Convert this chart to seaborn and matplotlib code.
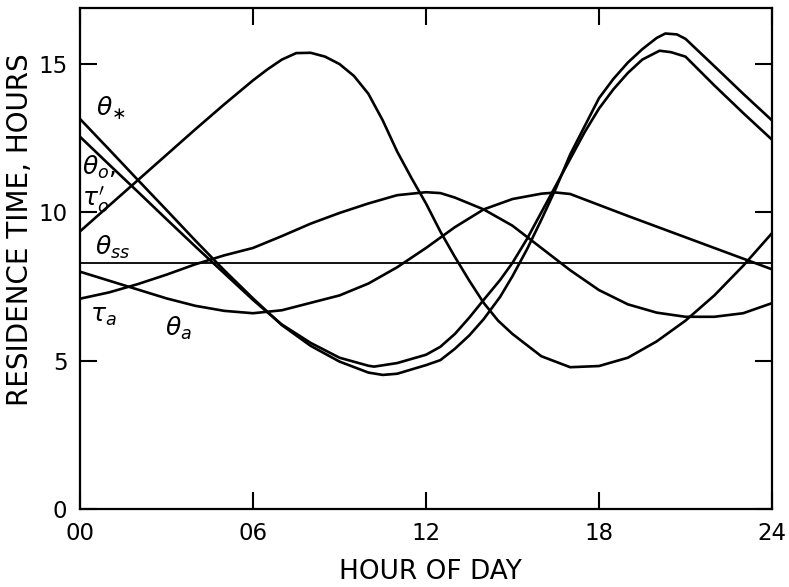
import matplotlib
matplotlib.use("Agg")
import matplotlib.pyplot as plt
import seaborn as sns
import pandas as pd

# ---- data (hours of day, residence time in hours) ----
theta_star_h = [0, 1, 2, 3, 4, 5, 6, 6.5, 7, 7.5, 8, 8.5, 9, 9.5, 10, 10.5, 11, 11.5, 12, 12.5, 13, 13.5, 14, 14.5,
                15, 16, 17, 18, 19, 20, 21, 22, 23, 24]
theta_star_v = [9.36, 10.22, 11.08, 11.94, 12.80, 13.64, 14.45, 14.82, 15.15, 15.37, 15.38, 15.25, 15.0, 14.6, 14.0,
                13.1, 12.05, 11.15, 10.3, 9.35, 8.5, 7.7, 6.95, 6.35, 5.9, 5.15, 4.78, 4.82, 5.1, 5.65, 6.35, 7.2,
                8.2, 9.3]

theta_o_h = [0, 1, 2, 3, 4, 5, 6, 6.5, 7, 8, 9, 10, 10.5, 11, 12, 12.5, 13, 13.5, 14, 14.57, 15, 15.5, 16, 16.5, 17,
             17.5, 18, 18.5, 19, 19.5, 20, 20.3, 20.7, 21, 22, 23, 24]
theta_o_v = [13.15, 12.13, 11.1, 10.08, 9.05, 8.05, 7.1, 6.65, 6.2, 5.5, 4.97, 4.6, 4.52, 4.56, 4.85, 5.02, 5.4, 5.85,
             6.4, 7.15, 7.85, 8.75, 9.75, 10.8, 11.95, 12.9, 13.85, 14.5, 15.05, 15.5, 15.88, 16.03, 16.0, 15.85,
             14.93, 14.0, 13.1]

tau_o_h = [0, 1, 2, 3, 4, 5, 6, 6.5, 7, 8, 9, 10, 10.2, 11, 12, 12.5, 13, 13.5, 14, 14.57, 15, 15.5, 16, 16.5, 17,
           17.5, 18, 18.5, 19, 19.5, 20, 20.1, 20.5, 21, 22, 23, 24]
tau_o_v = [12.55, 11.62, 10.7, 9.77, 8.85, 7.95, 7.05, 6.63, 6.22, 5.6, 5.1, 4.83, 4.8, 4.92, 5.2, 5.47, 5.9, 6.45,
           7.05, 7.72, 8.3, 9.1, 10.0, 10.9, 11.8, 12.7, 13.5, 14.15, 14.7, 15.15, 15.4, 15.45, 15.4, 15.25, 14.28,
           13.35, 12.45]

theta_ss_h = [0, 24]
theta_ss_v = [8.3, 8.3]

tau_a_h = [0, 1, 2, 3, 4, 5, 6, 7, 8, 9, 10, 11, 12, 12.5, 13, 14, 15, 16, 17, 18, 19, 20, 21, 22, 23, 24]
tau_a_v = [7.09, 7.3, 7.58, 7.9, 8.25, 8.55, 8.8, 9.2, 9.62, 9.98, 10.3, 10.58, 10.68, 10.65, 10.5, 10.1, 9.55, 8.8,
           8.05, 7.38, 6.9, 6.62, 6.48, 6.48, 6.6, 6.94]

theta_a_h = [0, 1, 2, 3, 4, 5, 6, 7, 8, 9, 10, 11, 12, 13, 14, 15, 16, 16.5, 17, 18, 19, 20, 21, 22, 23, 24]
theta_a_v = [8.0, 7.7, 7.4, 7.1, 6.85, 6.68, 6.6, 6.7, 6.95, 7.2, 7.6, 8.15, 8.8, 9.5, 10.1, 10.45, 10.63, 10.67,
             10.62, 10.25, 9.88, 9.52, 9.16, 8.8, 8.44, 8.08]

x_ticks = [0, 6, 12, 18, 24]
x_tick_labels = ["00", "06", "12", "18", "24"]
y_ticks = [0, 5, 10, 15]
y_tick_labels = ["0", "5", "10", "15"]

curve_labels = [r"$\theta_{\ast}$", r"$\theta_o,$", r"$\tau_o'$", r"$\theta_{ss}$", r"$\tau_a$", r"$\theta_a$"]

# ---- plot ----
sns.set_theme(style="ticks")
plt.rcParams['font.family'] = ['DejaVu Sans']
plt.rcParams['mathtext.fontset'] = 'dejavusans'

fig = plt.figure(figsize=(7.89, 5.87), dpi=100)
ax = fig.add_axes([80 / 789, 1 - 509 / 587, (772 - 80) / 789, (509 - 8) / 587])

series = [(theta_star_h, theta_star_v, 1.9), (theta_o_h, theta_o_v, 1.9), (tau_o_h, tau_o_v, 1.9),
          (theta_ss_h, theta_ss_v, 1.3), (tau_a_h, tau_a_v, 1.9), (theta_a_h, theta_a_v, 1.9)]
for h, v, lw in series:
    df = pd.DataFrame({"hour": h, "time": v})
    sns.lineplot(data=df, x="hour", y="time", ax=ax, color="black", linewidth=lw, estimator=None, sort=False)

ax.set_xlim(0, 24)
ax.set_ylim(0, 16.89)
ax.set_xticks(x_ticks)
ax.set_xticklabels(x_tick_labels)
ax.set_yticks(y_ticks)
ax.set_yticklabels(y_tick_labels)
ax.tick_params(axis="both", direction="in", length=12, width=1.5, color="black",
               top=True, right=True, labelsize=16.5, labelcolor="black")
ax.tick_params(axis="x", pad=9)
ax.tick_params(axis="y", pad=9)
for s in ax.spines.values():
    s.set_visible(True)
    s.set_linewidth(1.6)
    s.set_color("black")

ax.set_xlabel("HOUR OF DAY", fontsize=19, color="black", va="baseline")
ax.set_ylabel("RESIDENCE TIME, HOURS", fontsize=20, color="black")
ax.xaxis.set_label_coords(0.506, (509 - 579) / 501)
ax.yaxis.set_label_coords(-0.0665, 0.557)

label_pos = [(0.55, 13.5), (0.08, 11.5), (0.08, 10.45), (0.52, 8.83), (0.35, 6.5), (2.95, 6.1)]
for txt, (lx, ly) in zip(curve_labels, label_pos):
    ax.text(lx, ly, txt, fontsize=18, ha="left", va="center", color="black")

fig.savefig("out.png", dpi=100)
